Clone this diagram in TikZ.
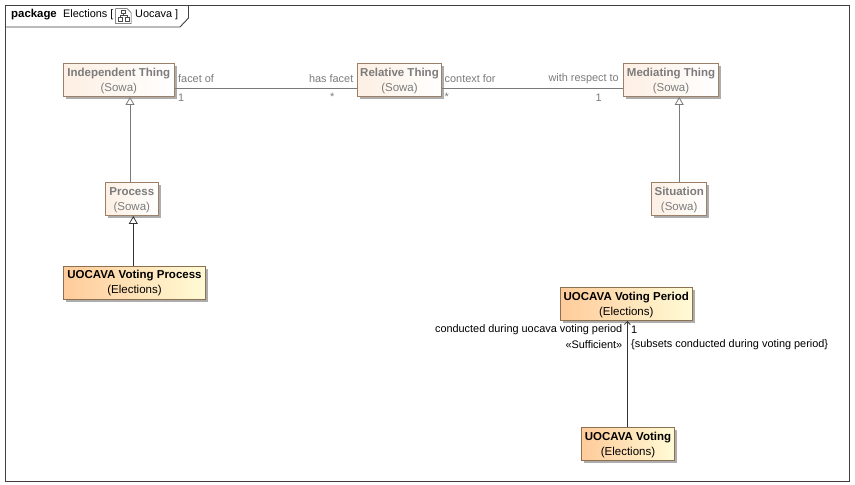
\documentclass[tikz,border=0pt]{standalone}
\usepackage{fontspec}
\setmainfont{Liberation Sans}
\usetikzlibrary{arrows.meta, shadows, positioning}
\definecolor{faded}{HTML}{7C7C7C}
\definecolor{fadedline}{HTML}{7A7A7A}
\definecolor{fadedborder}{HTML}{9C8068}
\definecolor{liveborder}{HTML}{8C7050}
\definecolor{sowaleft}{HTML}{FDEFE3}
\definecolor{liveleft}{HTML}{FFCB9A}
\definecolor{liveright}{HTML}{FFFBD6}
\tikzset{
    classbase/.style={draw, line width=0.9pt, inner sep=0pt, align=center, minimum height=33pt, text height=24.5pt,
        font=\fontsize{11.5}{15}\selectfont, drop shadow={shadow xshift=2.5pt, shadow yshift=-2.5pt, fill=black!32, opacity=1}},
    sowa/.style={classbase, draw=fadedborder, left color=sowaleft, right color=white, text=faded},
    live/.style={classbase, draw=liveborder, left color=liveleft, right color=liveright, text=black},
    rolelabel/.style={font=\fontsize{10.9}{12}\selectfont, inner sep=0pt},
    fadelabel/.style={rolelabel, text=faded},
    assoc/.style={draw=fadedline, line width=0.8pt},
    general/.style={line width=0.8pt, -{Triangle[open, fill=white, length=8pt, width=9pt]}},
}
\begin{document}
\begin{tikzpicture}[x=1pt, y=-1pt]
    \useasboundingbox (0,0) rectangle (855,485);
    \fill[white] (0,0) rectangle (855,485);
    \coordinate (framenw) at (5.5,5.5);
    \coordinate (framese) at (849,481);
    \draw[line width=0.9pt, draw=black!75] (framenw) rectangle (framese);
    \draw[line width=0.9pt, draw=black!75] (5.5,27) -- (180,27) -- (188.5,18) -- (188.5,5.5);

    % title of the package
    \node[rolelabel, anchor=west, font=\fontsize{11.4}{12}\selectfont] (kind) at (11,14.5) {\textbf{package}};
    \node[rolelabel, anchor=west] (pkgname) at (63,14.5) {Elections [};
    \node[rolelabel, anchor=west] (diagname) at (135,14.5) {Uocava ]};
    \begin{scope}[line width=0.5pt, draw=black!70]
        \draw (115.5,8.5) -- (127,8.5) -- (131,12.5) -- (131,23.5) -- (115.5,23.5) -- cycle;
        \draw (121,10.5) rectangle (125,13.5);
        \draw (118,17.5) rectangle (122,21);
        \draw (125,17.5) rectangle (129,21);
        \draw (123,13.5) -- (123,15.5) (120,17.5) -- (120,15.5) -- (127,15.5) -- (127,17.5);
    \end{scope}

    % classes
    \node[sowa, minimum width=111pt] (independent) at (118.8,80) {\textbf{Independent Thing}\\(Sowa)};
    \node[sowa, minimum width=84pt] (relative) at (399.5,80) {\textbf{Relative Thing}\\(Sowa)};
    \node[sowa, minimum width=95pt] (mediating) at (671,80) {\textbf{Mediating Thing}\\(Sowa)};
    \node[sowa, minimum width=53pt] (process) at (131.8,199) {\textbf{Process}\\(Sowa)};
    \node[sowa, minimum width=55pt] (situation) at (679.2,199) {\textbf{Situation}\\(Sowa)};
    \node[live, minimum width=142pt] (votingprocess) at (134.5,282.7) {\textbf{UOCAVA Voting Process}\\(Elections)};
    \node[live, minimum width=132pt] (votingperiod) at (626.3,304) {\textbf{UOCAVA Voting Period}\\(Elections)};
    \node[live, minimum width=93pt] (voting) at (628,444) {\textbf{UOCAVA Voting}\\(Elections)};

    % connectors
    \draw[assoc] ([yshift=-8pt]independent.east) -- ([yshift=-8pt]relative.west);
    \draw[assoc] ([yshift=-8pt]relative.east) -- ([yshift=-8pt]mediating.west);
    \draw[general, draw=fadedline] ([xshift=-1.8pt]process.north) -- ([xshift=-1.8pt]process.north |- independent.south);
    \draw[general, draw=fadedline] (situation.north) -- (situation.north |- mediating.south);
    \draw[general, draw=black!80] ([xshift=-1.2pt]votingprocess.north) -- ([xshift=-1.2pt]votingprocess.north |- process.south);
    \draw[line width=0.8pt, draw=black!80, -{Straight Barb[length=3pt, width=6pt]}] ([xshift=-0.7pt]voting.north) -- ([xshift=-0.7pt]voting.north |- votingperiod.south);

    % role names and multiplicities
    \node[fadelabel, anchor=west] (facetof) at (178,78.5) {facet of};
    \node[fadelabel, anchor=east] (hasfacet) at (353.5,78.5) {has facet};
    \node[fadelabel, anchor=west] (contextfor) at (444.5,78.5) {context for};
    \node[fadelabel, anchor=east] (withrespect) at (619,78.5) {with respect to};
    \node[fadelabel, anchor=west] (one) at (178,97.5) {1};
    \node[fadelabel, anchor=east] (many) at (334.5,97) {*};
    \node[fadelabel, anchor=west] (manyb) at (444.5,97) {*};
    \node[fadelabel, anchor=east] (oneb) at (602,97.5) {1};
    \node[rolelabel, anchor=east] (during) at (622.5,329.5) {conducted during uocava voting period};
    \node[rolelabel, anchor=east] (sufficient) at (622.5,344.5) {«Sufficient»};
    \node[rolelabel, anchor=west] (onec) at (631,329.5) {1};
    \node[rolelabel, anchor=west] (subsets) at (631,344.5) {\{subsets conducted during voting period\}};
\end{tikzpicture}
\end{document}
